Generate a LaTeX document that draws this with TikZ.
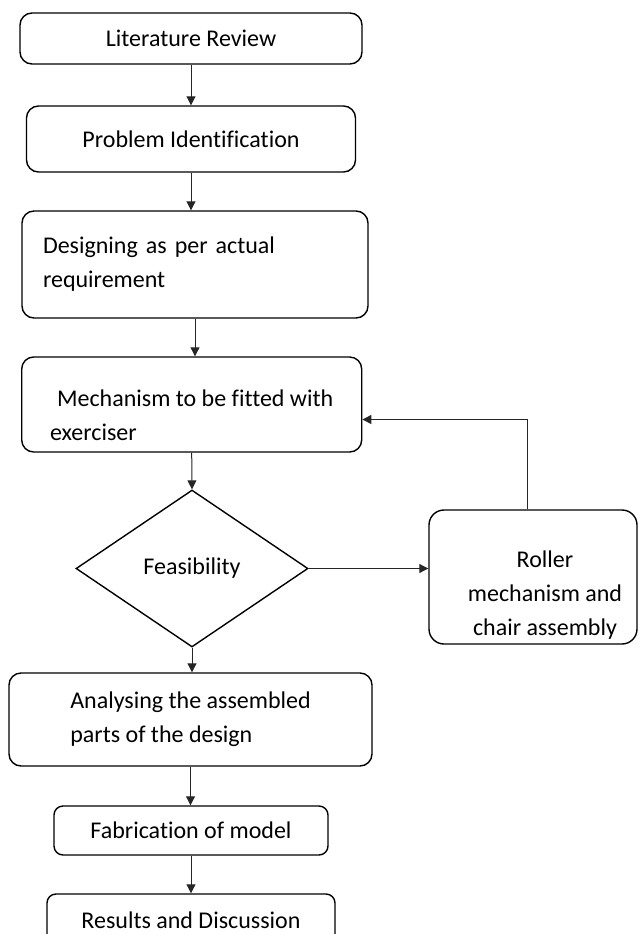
\documentclass[tikz,border=0pt]{standalone}
\usepackage{fontspec}
\setmainfont{Carlito}[Ligatures=NoCommon]
\usetikzlibrary{shapes.geometric,arrows.meta}
\begin{document}
\begin{tikzpicture}[x=1pt,y=-1pt,
        every node/.style={font=\fontsize{24}{34}\selectfont},
        box/.style={draw,line width=1.4pt,rounded corners=12pt,inner sep=0pt},
        dec/.style={draw,diamond,line width=1.4pt,inner sep=0pt},
        arr/.style={draw=black!85,line width=1pt,-{Triangle[length=9pt,width=9pt]}}]
        \useasboundingbox (0,0) rectangle (638,934);
        \clip (0,0) rectangle (638,934);
        \node[box,minimum width=342pt,minimum height=51pt] (lr) at (191,38.5) {Literature Review};
        \node[box,minimum width=329pt,minimum height=66pt] (pi) at (191,139) {Problem Identification};
        \node[box,minimum width=346pt,minimum height=107pt,text width=304pt,align=left] (dr) at (195,264.5)
            {Designing as per actual\\requirement};
        \node[box,minimum width=340pt,minimum height=95pt,align=left,text height=76pt,text depth=5pt] (me) at (191.7,404.5)
            {\hspace*{7pt}Mechanism to be fitted with\\exerciser};
        \node[dec,minimum width=232pt,minimum height=157pt] (fe) at (192,568.5) {Feasibility};
        \node[box,rounded corners=15pt,minimum width=208pt,minimum height=134pt,align=center,text height=122pt,text depth=5pt] (rm) at (533,577)
            {\hspace*{24pt}Roller\\\hspace*{24pt}mechanism and\\\hspace*{24pt}chair assembly};
        \node[box,minimum width=363pt,minimum height=93pt,align=left] (an) at (190.5,719.5)
            {Analysing the assembled\\parts of the design};
        \node[box,rounded corners=9pt,minimum width=274pt,minimum height=49pt] (fm) at (191,830.5) {Fabrication of model};
        \node[box,rounded corners=9pt,minimum width=288pt,minimum height=52pt] (rd) at (191,920) {Results and Discussion};

        \draw[arr] (lr.south) -- (lr.south |- pi.north);
        \draw[arr] (pi.south) -- (pi.south |- dr.north);
        \draw[arr] (dr.south) -- (dr.south |- me.north);
        \draw[arr] (me.south) -- (fe.north);
        \draw[arr] (fe.east) -- (fe.east -| rm.west);
        \draw[arr] ([xshift=-6pt]rm.north) |- ([yshift=-15pt]me.east);
        \draw[arr] (fe.south) -- (fe.south |- an.north);
        \draw[arr] (an.south) -- (an.south |- fm.north);
        \draw[arr] (fm.south) -- (fm.south |- rd.north);
\end{tikzpicture}
\end{document}
